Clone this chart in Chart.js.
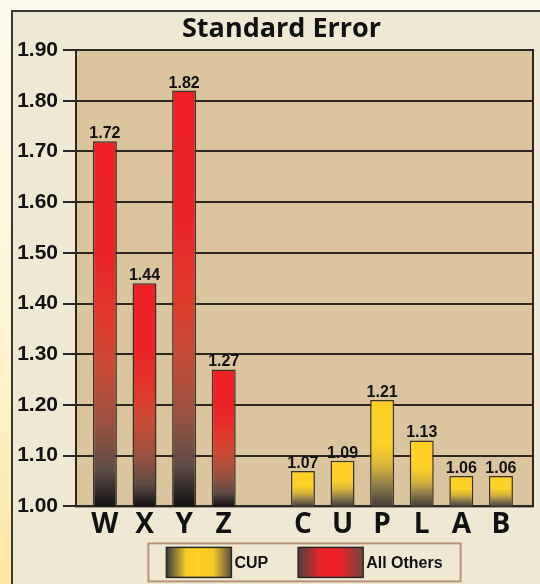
<!DOCTYPE html>
<html>
<head>
<meta charset="utf-8">
<script src="https://cdn.jsdelivr.net/npm/chart.js@4.4.1/dist/chart.umd.min.js"></script>
<style>
  html, body { margin: 0; padding: 0; width: 540px; height: 584px; overflow: hidden; }
  body { position: relative; background: linear-gradient(to bottom, #fffbec 0%, #fef5d6 55%, #fde7a2 100%); }
  #panel { position: absolute; left: 11px; top: 10px; width: 560px; height: 600px; background: #efe9d4; border: 2px solid #3a3835; }
  #c { position: absolute; left: 0; top: 0; }
</style>
</head>
<body>
<div id="panel"></div>
<canvas id="c" width="540" height="584"></canvas>
<script>
// DATA
const categories = ['W', 'X', 'Y', 'Z', '', 'C', 'U', 'P', 'L', 'A', 'B'];
const othersCats = ['W', 'X', 'Y', 'Z'];
const othersValues = [1.72, 1.44, 1.82, 1.27];
const cupCats = ['C', 'U', 'P', 'L', 'A', 'B'];
const cupValues = [1.07, 1.09, 1.21, 1.13, 1.06, 1.06];
const seriesNames = ['CUP', 'All Others'];
const yTicks = [1.00, 1.10, 1.20, 1.30, 1.40, 1.50, 1.60, 1.70, 1.80, 1.90];

// STYLE
const NARROW = "'Liberation Sans Narrow', 'Liberation Sans', Arial, sans-serif";
const HEAD = "'Open Sans', 'DejaVu Sans', sans-serif";
const INK = '#111111';
const LINE = '#2b2620';

const redStops = [[0, '#ee2024'], [0.3, '#ea2426'], [0.5, '#de3a2c'], [0.62, '#c84b34'], [0.78, '#985142'], [0.9, '#5e4c46'], [1, '#111111']];
const yellowStops = [[0, '#ffd024'], [0.42, '#fdd026'], [0.62, '#d8b43a'], [0.8, '#8e7e4a'], [1, '#403c3a']];
const cupSwatch = [[0, '#3a3838'], [0.3, '#f4cb2a'], [0.5, '#ffd024'], [0.72, '#f4cb2a'], [1, '#5a5040']];
const redSwatch = [[0, '#4a4040'], [0.33, '#e4242a'], [0.5, '#ee2024'], [0.67, '#e4242a'], [1, '#6a4a40']];

const toPoints = (cats, vals) => cats.map((c, i) => ({ x: categories.indexOf(c), y: vals[i] }));

function barFill(ctx, stops) {
  const chart = ctx.chart;
  const area = chart.chartArea;
  if (!area || ctx.type !== 'data') return stops[0][1];
  const top = chart.scales.y.getPixelForValue(ctx.parsed.y);
  const g = chart.ctx.createLinearGradient(0, top, 0, area.bottom);
  stops.forEach(([o, c]) => g.addColorStop(o, c));
  return g;
}

// plot background + outline
const plotFrame = {
  id: 'plotFrame',
  beforeDraw(chart) {
    const { ctx, chartArea: a } = chart;
    ctx.save();
    ctx.fillStyle = '#dbc59e';
    ctx.fillRect(a.left, a.top, a.right - a.left, a.bottom - a.top);
    ctx.restore();
  },
  beforeDatasetsDraw(chart) {
    const { ctx, chartArea: a } = chart;
    ctx.save();
    ctx.strokeStyle = LINE;
    ctx.lineWidth = 2;
    ctx.strokeRect(a.left, a.top, a.right - a.left, a.bottom - a.top);
    ctx.restore();
  },
  afterLayout(chart) {
    // title sits a bit right of canvas centre, as in the panel
    chart.titleBlock.left += 30;
  }
};

// value labels above bars
const valueLabels = {
  id: 'valueLabels',
  afterDatasetsDraw(chart) {
    const ctx = chart.ctx;
    ctx.save();
    ctx.font = `bold 16px ${NARROW}`;
    ctx.fillStyle = INK;
    ctx.textAlign = 'center';
    ctx.textBaseline = 'alphabetic';
    chart.data.datasets.forEach((ds, i) => {
      chart.getDatasetMeta(i).data.forEach((bar, j) => {
        ctx.fillText(ds.data[j].y.toFixed(2), bar.x, bar.y - 3);
      });
    });
    ctx.restore();
  }
};

// boxed legend under the axis
const legendBox = {
  id: 'legendBox',
  afterDraw(chart) {
    const { ctx, chartArea: a } = chart;
    const items = [{ name: seriesNames[0], stops: cupSwatch }, { name: seriesNames[1], stops: redSwatch }];
    const sw = 65, sh = 30, textGap = 3, itemGap = 30, padX = 18;
    ctx.save();
    ctx.font = `bold 16px ${NARROW}`;
    const widths = items.map(it => sw + textGap + ctx.measureText(it.name).width);
    const total = widths.reduce((s, w) => s + w, 0) + itemGap * (items.length - 1);
    const cx = (a.left + a.right) / 2;
    const fTop = a.bottom + 37;
    ctx.fillStyle = '#efe9d4';
    ctx.strokeStyle = '#b39479';
    ctx.lineWidth = 2;
    ctx.fillRect(cx - total / 2 - padX, fTop, total + padX * 2, 38);
    ctx.strokeRect(cx - total / 2 - padX, fTop, total + padX * 2, 38);
    let x = cx - total / 2;
    const sTop = fTop + 4;
    items.forEach((it, i) => {
      const g = ctx.createLinearGradient(x, 0, x + sw, 0);
      it.stops.forEach(([o, c]) => g.addColorStop(o, c));
      ctx.fillStyle = g;
      ctx.fillRect(x, sTop, sw, sh);
      ctx.strokeStyle = '#2a2826';
      ctx.lineWidth = 1.5;
      ctx.strokeRect(x, sTop, sw, sh);
      ctx.fillStyle = INK;
      ctx.textAlign = 'left';
      ctx.textBaseline = 'middle';
      ctx.fillText(it.name, x + sw + textGap, sTop + sh / 2 + 1);
      x += widths[i] + itemGap;
    });
    ctx.restore();
  }
};

new Chart(document.getElementById('c'), {
  type: 'bar',
  data: {
    datasets: [
      {
        label: seriesNames[1],
        data: toPoints(othersCats, othersValues),
        backgroundColor: c => barFill(c, redStops)
      },
      {
        label: seriesNames[0],
        data: toPoints(cupCats, cupValues),
        backgroundColor: c => barFill(c, yellowStops)
      }
    ]
  },
  options: {
    responsive: false,
    animation: false,
    layout: { padding: { top: 0, right: 7, bottom: 40, left: 0 } },
    datasets: {
      bar: { grouped: false, maxBarThickness: 24, borderWidth: 1.5, borderColor: '#3a3226' }
    },
    plugins: {
      legend: { display: false },
      tooltip: { enabled: false },
      title: {
        display: true,
        text: 'Standard Error',
        color: INK,
        font: { family: HEAD, size: 27, weight: 'bold' },
        padding: { top: 13, bottom: 4.6 }
      }
    },
    scales: {
      x: {
        type: 'linear',
        offset: false,
        min: -0.73,
        max: 10.81,
        afterBuildTicks: s => { s.ticks = categories.map((c, i) => ({ value: i })); },
        grid: { display: false, drawTicks: false },
        border: { display: true, color: LINE, width: 2 },
        ticks: {
          autoSkip: false,
          maxRotation: 0,
          padding: 2,
          color: INK,
          font: { family: HEAD, size: 28, weight: 'bold' },
          callback: v => categories[v]
        }
      },
      y: {
        min: 1.0,
        max: 1.9,
        afterBuildTicks: s => { s.ticks = yTicks.map(v => ({ value: v })); },
        afterFit: s => { s.width = 76; },
        grid: { color: LINE, lineWidth: 2, tickLength: 13 },
        border: { display: true, color: LINE, width: 2 },
        ticks: {
          padding: 5,
          color: INK,
          font: { family: NARROW, size: 21, weight: 'bold' },
          callback: v => v.toFixed(2)
        }
      }
    }
  },
  plugins: [plotFrame, valueLabels, legendBox]
});
</script>
</body>
</html>
